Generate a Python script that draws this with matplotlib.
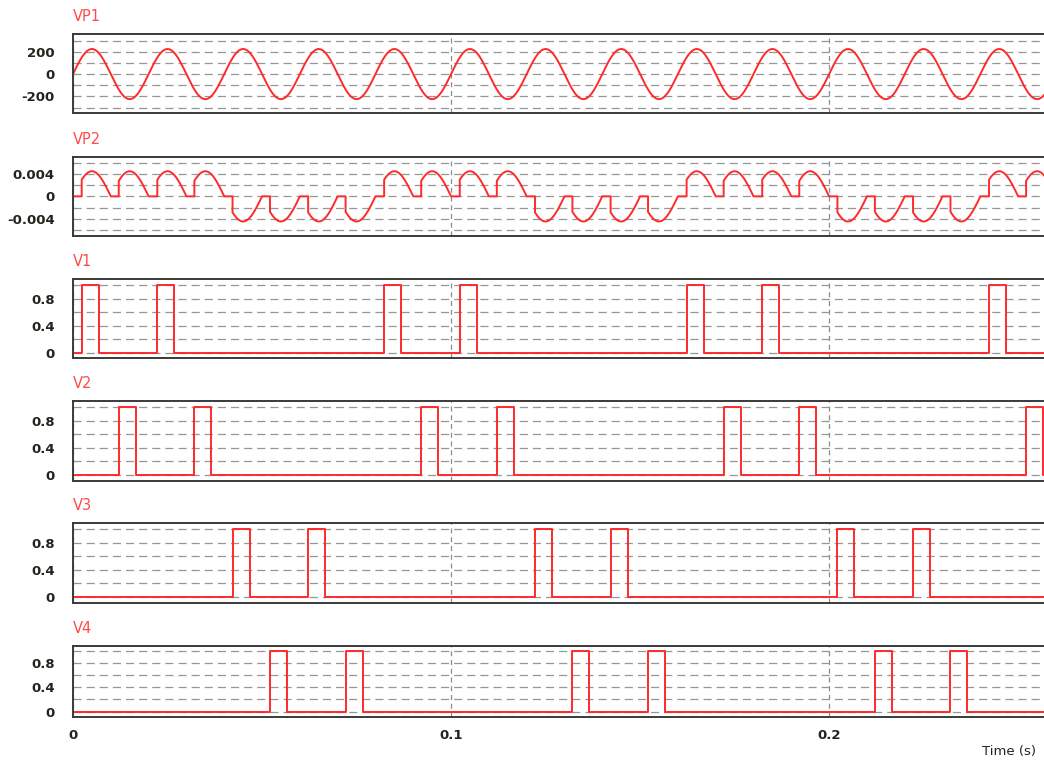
#!/usr/bin/env python3
"""Cycloconverter waveforms: supply voltage, load current and four gate signals."""

import numpy as np
import matplotlib
matplotlib.use("Agg")
import matplotlib.pyplot as plt
from matplotlib.ticker import FixedLocator

# ── Values ────────────────────────────────────────────────────────────────────

T_END       = 0.2596          # right edge of the time axis (s)
LINE_FREQ   = 50.0            # supply frequency (Hz), period 0.02 s
VP1_PEAK    = 225.0           # supply voltage amplitude
VP2_PEAK    = 0.0045          # load signal amplitude
PULSE_WIDTH = 0.0045          # gate pulse width (s)

# gate pulse start times (s)
V1_ON = [0.0023, 0.0223, 0.0823, 0.1023, 0.1623, 0.1823, 0.2423]
V2_ON = [0.0121, 0.0321, 0.0921, 0.1121, 0.1721, 0.1921, 0.2521]
V3_ON = [0.0422, 0.0622, 0.1222, 0.1422, 0.2022, 0.2222]
V4_ON = [0.0521, 0.0721, 0.1321, 0.1521, 0.2121, 0.2321]

# V1/V2 drive the positive group, V3/V4 the negative group
GROUP_SIGN = {"V1": 1, "V2": 1, "V3": -1, "V4": -1}

# axis grids and labels
VP1_GRID   = [-300, -200, -100, 0, 100, 200, 300]
VP1_LABELS = ["", "-200", "", "0", "", "200", ""]
VP1_LIM    = (-352, 357)
VP2_GRID   = [-0.006, -0.004, -0.002, 0, 0.002, 0.004, 0.006]
VP2_LABELS = ["", "-0.004", "", "0", "", "0.004", ""]
VP2_LIM    = (-0.0071, 0.0071)
V_GRID     = [0, 0.2, 0.4, 0.6, 0.8, 1.0]
V_LABELS   = ["0", "", "0.4", "", "0.8", ""]
V_LIM      = (-0.085, 1.09)
X_TICKS    = [0, 0.1, 0.2]
X_LABELS   = ["0", "0.1", "0.2"]

# ── Style ─────────────────────────────────────────────────────────────────────

RED       = "#ff2a2a"
TITLE_RED = "#ff4a4a"
TEXT      = "#26221c"
W, H      = 1044, 763

# panel boxes in pixels (top, bottom)
BOXES = {
    "VP1": (34.3, 113.3),
    "VP2": (156.7, 236.0),
    "V1":  (279.0, 358.3),
    "V2":  (401.0, 480.7),
    "V3":  (523.3, 602.7),
    "V4":  (645.7, 716.7),
}
LEFT_PX = 73.0


# ── Signals ───────────────────────────────────────────────────────────────────

def pulse_train(starts):
    xs, ys = [0.0], [0.0]
    for s in starts:
        e = min(s + PULSE_WIDTH, T_END)
        xs += [s, s, e, e]
        ys += [0, 1, 1, 0]
    xs.append(T_END)
    ys.append(0.0)
    return np.array(xs), np.array(ys)


def load_signal():
    half = 0.5 / LINE_FREQ
    firings = []
    for name, starts in (("V1", V1_ON), ("V2", V2_ON), ("V3", V3_ON), ("V4", V4_ON)):
        firings += [(s, GROUP_SIGN[name]) for s in starts]
    firings.sort()
    xs, ys = [0.0], [0.0]
    for t0, sign in firings:
        t1 = min(np.ceil(t0 / half) * half, T_END)
        seg = np.linspace(t0, t1, 60)
        val = sign * VP2_PEAK * np.abs(np.sin(2 * np.pi * LINE_FREQ * seg))
        xs += [t0] + list(seg)
        ys += [0.0] + list(val)
        if t1 < T_END:
            xs.append(t1)
            ys.append(0.0)
    xs.append(T_END)
    ys.append(ys[-1])
    return np.array(xs), np.array(ys)


t = np.linspace(0, T_END, 4000)
vp1 = VP1_PEAK * np.sin(2 * np.pi * LINE_FREQ * t)
vp2_t, vp2 = load_signal()

# ── Plot ──────────────────────────────────────────────────────────────────────

fig = plt.figure(figsize=(W / 100, H / 100), dpi=100)


def make_axes(name, grid, labels, lim):
    top, bot = BOXES[name]
    ax = fig.add_axes([LEFT_PX / W, 1 - bot / H, 1.01 - LEFT_PX / W, (bot - top) / H])
    ax.set_xlim(0, T_END)
    ax.set_ylim(*lim)
    ax.yaxis.set_major_locator(FixedLocator(grid))
    ax.set_yticklabels(labels)
    ax.xaxis.set_major_locator(FixedLocator(X_TICKS))
    ax.tick_params(length=0, labelsize=9.5, colors=TEXT, pad=13)
    for lab in ax.get_yticklabels():
        lab.set_fontweight("bold")
    ax.grid(axis="y", color="#969696", linewidth=0.9, linestyle=(0, (6.5, 4)))
    ax.grid(axis="x", color="#8c8c8c", linewidth=0.9, linestyle=(0, (4, 3)))
    for sp in ax.spines.values():
        sp.set_color("#3a3a3a")
        sp.set_linewidth(1.4)
    ax.annotate(name, xy=(0, 1), xycoords="axes fraction",
                xytext=(0, 12.5), textcoords="offset points",
                ha="left", va="center", fontsize=10.5, color=TITLE_RED)
    return ax


ax = make_axes("VP1", VP1_GRID, VP1_LABELS, VP1_LIM)
ax.plot(t, vp1, color=RED, lw=1.4)
ax.set_xticklabels([])

ax = make_axes("VP2", VP2_GRID, VP2_LABELS, VP2_LIM)
ax.plot(vp2_t, vp2, color=RED, lw=1.4)
ax.set_xticklabels([])

for name, starts in (("V1", V1_ON), ("V2", V2_ON), ("V3", V3_ON), ("V4", V4_ON)):
    ax = make_axes(name, V_GRID, V_LABELS, V_LIM)
    px, py = pulse_train(starts)
    ax.plot(px, py, color=RED, lw=1.4)
    if name == "V4":
        ax.set_xticklabels(X_LABELS)
        ax.tick_params(axis="x", pad=9)
        for lab in ax.get_xticklabels():
            lab.set_fontweight("bold")
    else:
        ax.set_xticklabels([])

fig.text(1036 / W, 1 - 752 / H, "Time (s)", ha="right", va="center",
         fontsize=9.5, color=TEXT)

fig.savefig("out.png", dpi=100)
print("Saved: out.png")
